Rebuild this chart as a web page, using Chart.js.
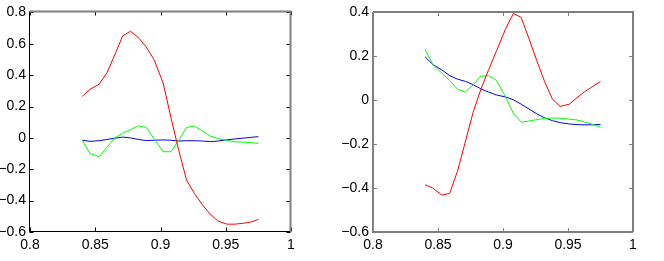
<!DOCTYPE html>
<html><head><meta charset="utf-8">
<script src="https://cdn.jsdelivr.net/npm/chart.js@4.4.1/dist/chart.umd.min.js"></script>
<style>
html,body{margin:0;padding:0;background:#fff;overflow:hidden}
#w{position:relative;width:664px;height:261px}
.c{position:absolute;top:0;width:332px;height:261px}
</style></head><body>
<div id="w">
<div class="c" style="left:0"><canvas id="c1" width="332" height="261"></canvas></div>
<div class="c" style="left:332px"><canvas id="c2" width="332" height="261"></canvas></div>
</div>
<script>
const xValues = [0.840,0.846,0.853,0.859,0.865,0.871,0.877,0.883,0.889,0.895,0.902,0.908,0.914,0.920,0.926,0.932,0.938,0.944,0.951,0.957,0.963,0.969,0.975];

const leftRed   = [0.265,0.31,0.342,0.415,0.53,0.65,0.68,0.64,0.58,0.50,0.35,0.13,-0.08,-0.27,-0.355,-0.425,-0.485,-0.53,-0.55,-0.55,-0.545,-0.537,-0.52];
const leftGreen = [-0.015,-0.10,-0.12,-0.06,0.0,0.03,0.053,0.076,0.068,-0.005,-0.088,-0.088,-0.015,0.067,0.075,0.045,0.012,-0.005,-0.015,-0.025,-0.027,-0.03,-0.035];
const leftBlue  = [-0.015,-0.022,-0.018,-0.01,-0.002,0.005,0.0,-0.01,-0.017,-0.015,-0.013,-0.015,-0.02,-0.018,-0.018,-0.02,-0.024,-0.02,-0.012,-0.007,-0.002,0.003,0.008];

const rightRed   = [-0.385,-0.40,-0.432,-0.424,-0.323,-0.19,-0.055,0.05,0.14,0.225,0.325,0.395,0.377,0.28,0.18,0.085,0.005,-0.028,-0.018,0.012,0.04,0.063,0.085];
const rightGreen = [0.232,0.163,0.123,0.09,0.05,0.037,0.07,0.11,0.112,0.09,0.015,-0.06,-0.10,-0.095,-0.088,-0.083,-0.081,-0.082,-0.086,-0.09,-0.10,-0.11,-0.123];
const rightBlue  = [0.198,0.163,0.138,0.112,0.096,0.086,0.071,0.052,0.037,0.024,0.015,0.002,-0.018,-0.04,-0.062,-0.08,-0.093,-0.102,-0.108,-0.111,-0.112,-0.112,-0.11];

const xTicks = [0.8,0.85,0.9,0.95,1];
const yTicksLeft = [-0.6,-0.4,-0.2,0,0.2,0.4,0.6,0.8];
const yTicksRight = [-0.6,-0.4,-0.2,0,0.2,0.4];

const FONT = {family:'"Liberation Sans", Arial, Helvetica, sans-serif', size:14};
function fmt(v){ const s = String(Math.round(v*100)/100); return s.replace('-', '\u2212'); }

const framePlugin = {
  id:'frame',
  afterDraw(chart, args, opts){
    const {ctx, chartArea:a, scales} = chart;
    const soft = opts.soft;
    ctx.save();
    let L, R, T, B;
    if (soft) {
      L = Math.round(a.left); R = Math.round(a.right); T = Math.round(a.top); B = Math.round(a.bottom);
      ctx.strokeStyle = '#808080'; ctx.lineWidth = 2;
    } else {
      L = Math.round(a.left)-0.5; R = Math.round(a.right)-0.5; T = Math.round(a.top)-0.5; B = Math.round(a.bottom)-0.5;
      ctx.strokeStyle = '#000'; ctx.lineWidth = 1;
    }
    // ticks
    ctx.beginPath();
    scales.x.ticks.forEach(t=>{
      const p = Math.round(scales.x.getPixelForValue(t.value))+0.5;
      ctx.moveTo(p,B); ctx.lineTo(p,B-4);
      ctx.moveTo(p,T); ctx.lineTo(p,T+4);
    });
    scales.y.ticks.forEach(t=>{
      const p = Math.round(scales.y.getPixelForValue(t.value))+0.5;
      ctx.moveTo(L,p); ctx.lineTo(L+4,p);
      ctx.moveTo(R,p); ctx.lineTo(R-4,p);
    });
    ctx.lineWidth = 1;
    ctx.stroke();
    ctx.lineWidth = soft ? 2 : 1;
    // left & bottom
    ctx.beginPath();
    ctx.moveTo(L,T); ctx.lineTo(L,B); ctx.lineTo(R,B);
    ctx.stroke();
    // top & right (lighter, thicker)
    ctx.strokeStyle = '#808080';
    ctx.lineWidth = 2;
    ctx.beginPath();
    ctx.moveTo(L,T); ctx.lineTo(R,T); ctx.lineTo(R,B);
    ctx.stroke();
    ctx.restore();
  }
};

function pts(arr){ return xValues.map((x,i)=>({x:x, y:arr[i]})); }

function makeChart(id, red, green, blue, yMin, yMax, yTicks, yWidth, pad, soft){
  new Chart(document.getElementById(id), {
    type:'line',
    data:{datasets:[
      {data:pts(red), borderColor:'#ff0000'},
      {data:pts(green), borderColor:'#00ff00'},
      {data:pts(blue), borderColor:'#0000ff'}
    ]},
    options:{
      responsive:false, animation:false, devicePixelRatio:1,
      layout:{padding:pad},
      elements:{point:{radius:0}, line:{borderWidth:1, tension:0}},
      plugins:{legend:{display:false}, tooltip:{enabled:false}, frame:{soft:soft}},
      scales:{
        x:{type:'linear', min:0.8, max:1,
          afterBuildTicks:s=>{s.ticks = xTicks.map(v=>({value:v}));},
          afterFit:s=>{s.height = 29;},
          grid:{display:false, drawTicks:false}, border:{display:false},
          ticks:{font:FONT, color:'#000', padding:5, maxRotation:0, autoSkip:false, callback:v=>fmt(v)}},
        y:{type:'linear', min:yMin, max:yMax,
          afterBuildTicks:s=>{s.ticks = yTicks.map(v=>({value:v}));},
          afterFit:s=>{s.width = yWidth;},
          grid:{display:false, drawTicks:false}, border:{display:false},
          ticks:{font:FONT, color:'#000', padding:4, autoSkip:false, callback:v=>fmt(v)}}
      }
    },
    plugins:[framePlugin]
  });
}

makeChart('c1', leftRed, leftGreen, leftBlue, -0.6, 0.8, yTicksLeft, 30, {left:0, top:8, right:41, bottom:0}, false);
makeChart('c2', rightRed, rightGreen, rightBlue, -0.6, 0.4, yTicksRight, 41, {left:0, top:8, right:31, bottom:0}, true);
</script>
</body></html>
